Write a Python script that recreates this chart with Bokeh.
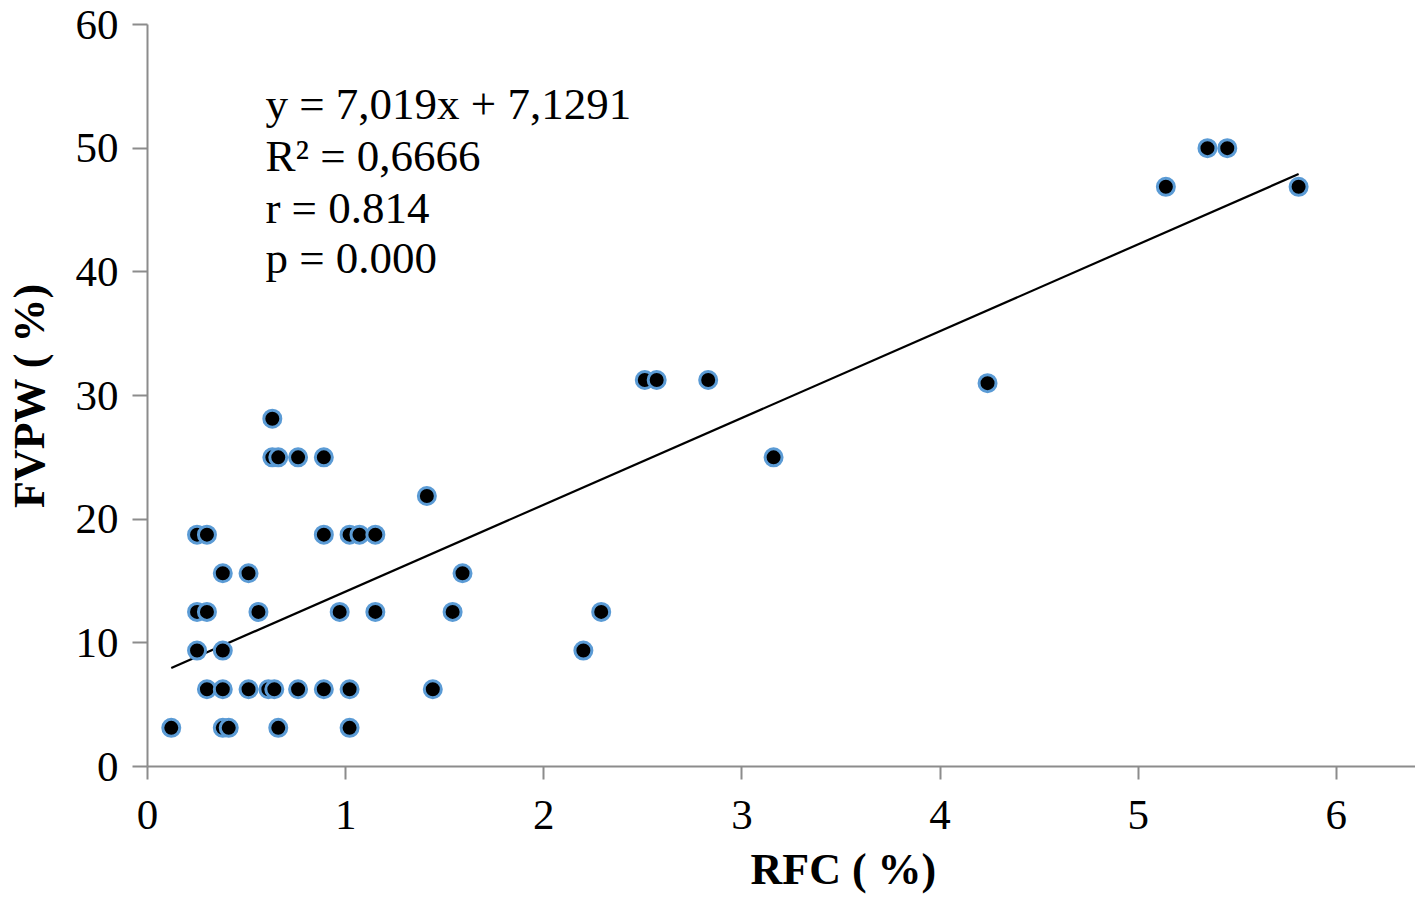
from bokeh.plotting import figure
from bokeh.models import Label, FixedTicker, Range1d, ColumnDataSource, Title
from bokeh.embed import file_html
from bokeh.resources import INLINE

# ---- data ----
rfc = [0.12, 0.38, 0.41, 0.66, 1.02,
       0.30, 0.38, 0.51, 0.61, 0.64, 0.76, 0.89, 1.02, 1.44,
       0.25, 0.38, 2.20,
       0.25, 0.30, 0.56, 0.97, 1.15, 1.54, 2.29,
       0.38, 0.51, 1.59,
       0.25, 0.30, 0.89, 1.02, 1.07, 1.15,
       1.41,
       0.63, 0.66, 0.76, 0.89, 3.16,
       0.63,
       2.51, 2.57, 2.83, 4.24,
       5.14, 5.81, 5.35, 5.45]
fvpw = [3.125, 3.125, 3.125, 3.125, 3.125,
        6.25, 6.25, 6.25, 6.25, 6.25, 6.25, 6.25, 6.25, 6.25,
        9.375, 9.375, 9.375,
        12.5, 12.5, 12.5, 12.5, 12.5, 12.5, 12.5,
        15.625, 15.625, 15.625,
        18.75, 18.75, 18.75, 18.75, 18.75, 18.75,
        21.875,
        25.0, 25.0, 25.0, 25.0, 25.0,
        28.125,
        31.25, 31.25, 31.25, 31.0,
        46.875, 46.875, 50.0, 50.0]
slope = 7.019
intercept = 7.1291
x_ticks = [0, 1, 2, 3, 4, 5, 6]
y_ticks = [0, 10, 20, 30, 40, 50, 60]
stats_lines = ["y = 7,019x + 7,1291", "R\u00b2 = 0,6666", "r = 0.814", "p = 0.000"]
stats_y = [53.6, 49.4, 45.2, 41.1]
x_title = "RFC ( %)"
y_title = "FVPW ( %)"

FONT = "Liberation Serif"
AXIS_GREY = "#8c8c8c"

p = figure(width=1415, height=905, output_backend="svg", toolbar_location=None,
           x_range=Range1d(0, 6.4), y_range=Range1d(0, 60),
           min_border_left=147, min_border_right=0, min_border_top=24,
           min_border_bottom=138)
p.outline_line_color = None
p.grid.visible = False
p.background_fill_color = "white"
p.border_fill_color = "white"

src = ColumnDataSource(data=dict(x=rfc, y=fvpw))
tx = [min(rfc), max(rfc)]
ty = [slope * v + intercept for v in tx]
p.line(tx, ty, line_color="black", line_width=2.2)
p.scatter("x", "y", source=src, size=17, fill_color="black",
          line_color="#5b9bd5", line_width=3)

for ax in (p.xaxis[0], p.yaxis[0]):
    ax.axis_line_color = AXIS_GREY
    ax.axis_line_width = 2
    ax.major_tick_line_color = AXIS_GREY
    ax.major_tick_line_width = 2
    ax.minor_tick_line_color = None
    ax.major_tick_in = 0
    ax.major_label_text_font = FONT
    ax.major_label_text_font_size = "43px"
    ax.major_label_text_color = "black"
    ax.axis_label_text_font = FONT
    ax.axis_label_text_font_style = "bold"
    ax.axis_label_text_font_size = "44px"
    ax.axis_label_text_color = "black"

p.xaxis.ticker = FixedTicker(ticks=x_ticks)
p.yaxis.ticker = FixedTicker(ticks=y_ticks)
p.xaxis.major_tick_out = 13
p.yaxis.major_tick_out = 15
p.xaxis.major_label_standoff = 21
p.yaxis.major_label_standoff = 14
p.yaxis.axis_label = y_title
p.yaxis.axis_label_standoff = 19

# x-axis title sits right of the frame centre in the reference
p.add_layout(Title(text=x_title, align="left", offset=603, standoff=23,
                   text_font=FONT, text_font_style="bold",
                   text_font_size="44px", text_color="black"), "below")

for txt, yy in zip(stats_lines, stats_y):
    p.add_layout(Label(x=0.595, y=yy, text=txt, text_font=FONT,
                       text_font_size="45px", text_color="black",
                       text_baseline="alphabetic", text_align="left"))

open("out.html", "w").write(file_html(p, INLINE))
